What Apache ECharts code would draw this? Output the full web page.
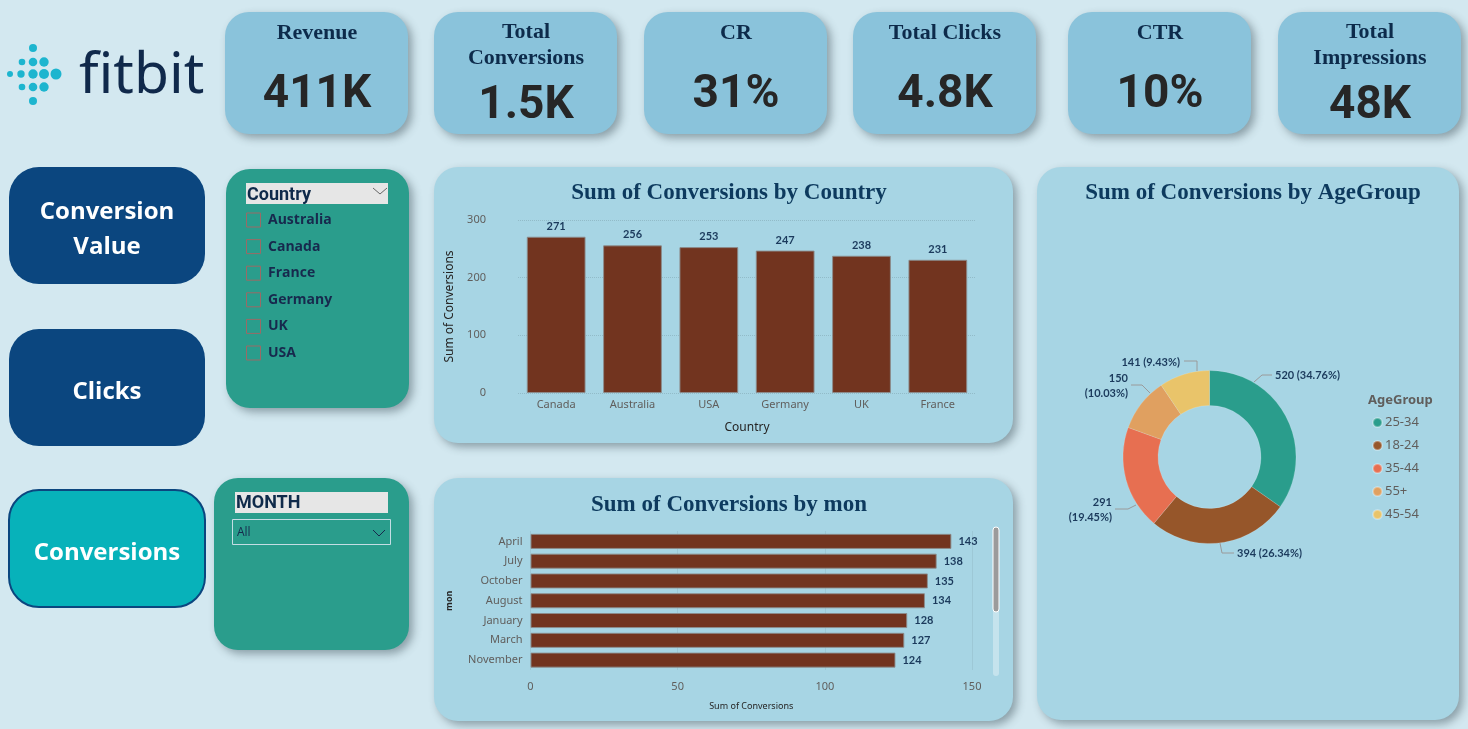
<!DOCTYPE html>
<html><head><meta charset="utf-8">
<script src="https://cdn.jsdelivr.net/npm/echarts@6/dist/echarts.min.js"></script>
<style>html,body{margin:0;padding:0;background:#d3e8f0;overflow:hidden}#c{width:1468px;height:729px}</style>
</head><body><div id="c"></div>
<script>
// ---------- DATA ----------
const countries = ['Canada', 'Australia', 'USA', 'Germany', 'UK', 'France'];
const countryConversions = [271, 256, 253, 247, 238, 231];
const months = ['April', 'July', 'October', 'August', 'January', 'March', 'November'];
const monthConversions = [143, 138, 135, 134, 128, 127, 124];
const ageGroups = ['25-34', '18-24', '35-44', '55+', '45-54'];
const ageConversions = [520, 394, 291, 150, 141];
const kpiTitles = ['Revenue', 'Total\nConversions', 'CR', 'Total Clicks', 'CTR', 'Total\nImpressions'];
const kpiValues = ['411K', '1.5K', '31%', '4.8K', '10%', '48K'];
const countrySlicerItems = ['Australia', 'Canada', 'France', 'Germany', 'UK', 'USA'];
const navButtons = ['Conversion\nValue', 'Clicks', 'Conversions'];

// ---------- LAYOUT / STYLE ----------
const kpiX = [225, 434, 644, 853, 1068, 1278];
const navY = [167, 329, 490];
const logoDots = [[33,48,4],[22,62,3.3],[33,62,4.3],[44,62,4.7],[10,74,3],[21,74,3.7],[33,74,4.7],[44,74,5],[56,74,5.5],[22,87,3.3],[33,87,4.3],[44,87,4.7],[33,101,4]];
// donut label placement (Power BI style leader lines)
const pieLabelLayout = [
  {x: 1275, y: 375, align: 'left', pts: [[1254, 382], [1262, 375], [1272, 375]]},
  {x: 1237, y: 553, align: 'left', pts: [[1220, 543], [1222, 553], [1234, 553]]},
  {x: 1112, y: 510, align: 'right', pts: [[1136, 505], [1128, 509], [1115, 509]]},
  {x: 1128, y: 386, align: 'right', pts: [[1150, 393], [1142, 385], [1131, 385]]},
  {x: 1180, y: 362, align: 'right', pts: [[1197, 371], [1197, 361], [1184, 361]]}
];
const BAR = '#72341f', NAVY = '#0d3a5e', LBL = '#1b3a5c';
const shadow = {shadowBlur: 8, shadowOffsetX: 4, shadowOffsetY: 4, shadowColor: 'rgba(50,70,80,0.45)'};

const g = [];
function rect(x, y, w, h, r, fill, extra) {
  g.push({type: 'rect', silent: true, z: -10, shape: {x, y, width: w, height: h, r}, style: Object.assign({fill}, extra || {})});
}
function text(x, y, t, font, fill, align, extra) {
  g.push({type: 'text', silent: true, z: 50, x, y, style: Object.assign({text: t, font, fill, textAlign: align || 'left', textVerticalAlign: 'middle'}, extra || {})});
}

// logo
logoDots.forEach(d => g.push({type: 'circle', silent: true, z: 5, shape: {cx: d[0], cy: d[1], r: d[2]}, style: {fill: '#1db5cf'}}));
text(79, 77, 'fitbit', '400 57px "Noto Sans", sans-serif', '#10294b', 'left');

// KPI cards
kpiTitles.forEach((t, i) => {
  const x = kpiX[i];
  rect(x, 12, 183, 122, 24, '#8ac3db', shadow);
  const two = t.indexOf('\n') >= 0;
  text(x + 92, two ? 45 : 33, t, 'bold 22px "Liberation Serif", "Times New Roman", serif', '#0d2b4b', 'center', {lineHeight: two ? 26 : 24});
  text(x + 92, two ? 106 : 95, kpiValues[i], 'bold 46px Roboto, sans-serif', '#262626', 'center');
});

// nav buttons
navButtons.forEach((t, i) => {
  const active = i === 2;
  rect(9, navY[i], 196, 117, 30, active ? '#07b2ba' : '#0b467f', active ? {stroke: '#0b467f', lineWidth: 2} : {});
  text(107, navY[i] + 63, t, 'bold 24px "Open Sans", sans-serif', '#ffffff', 'center', {lineHeight: 35});
});

// Country slicer
rect(226, 169, 183, 239, 24, '#2a9d8c', shadow);
rect(246, 183, 142, 21, 0, '#e6e6e6');
text(247, 195, 'Country', 'bold 18px Roboto, sans-serif', '#0f2a4a', 'left');
g.push({type: 'polyline', silent: true, z: 50, shape: {points: [[373, 188], [380, 194], [387, 188]]}, style: {stroke: '#666', lineWidth: 1, fill: null}});
countrySlicerItems.forEach((c, i) => {
  const cy = 220 + i * 26.6;
  g.push({type: 'rect', silent: true, z: 40, shape: {x: 246.5, y: cy - 7, width: 14, height: 14}, style: {fill: 'none', stroke: '#9a6a66', lineWidth: 1}});
  text(268, cy, c, 'bold 14px "Open Sans", sans-serif', '#17294d', 'left');
});

// Month slicer
rect(214, 478, 195, 172, 24, '#2a9d8c', shadow);
rect(235, 492, 153, 21, 0, '#e6e6e6');
text(236, 503, 'MONTH', 'bold 18px Roboto, sans-serif', '#0f2a4a', 'left');
g.push({type: 'rect', silent: true, z: 40, shape: {x: 232.5, y: 519.5, width: 158, height: 25}, style: {fill: 'none', stroke: '#c4dde4', lineWidth: 1}});
text(237, 533, 'All', '12px "Open Sans", sans-serif', '#17294d', 'left');
g.push({type: 'polyline', silent: true, z: 50, shape: {points: [[373, 530], [379, 536], [385, 530]]}, style: {stroke: '#17294d', lineWidth: 1, fill: null}});

// chart cards
rect(434, 167, 579, 276, 24, '#a7d5e4', shadow);
rect(434, 478, 579, 243, 24, '#a7d5e4', shadow);
rect(1037, 167, 422, 553, 24, '#a7d5e4', shadow);

// scrollbar for month chart
g.push({type: 'rect', silent: true, z: 40, shape: {x: 993, y: 527, width: 6, height: 149, r: 3}, style: {fill: 'rgba(255,255,255,0.35)'}});
g.push({type: 'rect', silent: true, z: 41, shape: {x: 993, y: 527, width: 6, height: 85, r: 3}, style: {fill: '#9b9b9b', stroke: '#ffffff', lineWidth: 1}});

// legend title
text(1368, 400, 'AgeGroup', 'bold 13px "Noto Sans", sans-serif', '#605e5c', 'left');

const axisFont = {fontFamily: '"Noto Sans", sans-serif', fontSize: 11, color: '#605e5c'};
const valFont = {fontFamily: 'Lato, sans-serif', fontWeight: 'bold', fontSize: 11, color: LBL};
const titleFont = {fontFamily: '"Liberation Serif", "Times New Roman", serif', fontWeight: 'bold', fontSize: 23, color: NAVY};
const ageTotal = ageConversions.reduce((a, b) => a + b, 0);

const option = {
  backgroundColor: '#d3e8f0',
  animation: false,
  title: [
    {text: 'Sum of Conversions by Country', left: 724, top: 177, textAlign: 'center', textStyle: titleFont},
    {text: 'Sum of Conversions by mon', left: 724, top: 489, textAlign: 'center', textStyle: titleFont},
    {text: 'Sum of Conversions by AgeGroup', left: 1248, top: 177, textAlign: 'center', textStyle: titleFont}
  ],
  grid: [
    {left: 518, top: 220, width: 458, height: 173},
    {left: 530.5, top: 531.5, width: 441.5, height: 138.5}
  ],
  xAxis: [
    {type: 'category', gridIndex: 0, data: countries, axisLine: {show: false}, axisTick: {show: false},
     axisLabel: Object.assign({margin: 6}, axisFont),
     name: 'Country', nameLocation: 'middle', nameGap: 29, nameTextStyle: {fontFamily: '"Noto Sans", sans-serif', fontSize: 12, color: '#252423'}},
    {type: 'value', gridIndex: 1, min: 0, max: 150, interval: 50, axisLine: {show: false}, axisTick: {show: false},
     axisLabel: Object.assign({margin: 11}, axisFont),
     splitLine: {show: true, lineStyle: {type: 'dotted', color: 'rgba(0,0,0,0.12)'}},
     name: 'Sum of Conversions', nameLocation: 'middle', nameGap: 32, nameTextStyle: {fontFamily: '"Noto Sans", sans-serif', fontSize: 9, color: '#252423'}}
  ],
  yAxis: [
    {type: 'value', gridIndex: 0, min: 0, max: 300, interval: 100, axisLine: {show: false}, axisTick: {show: false},
     axisLabel: Object.assign({margin: 32}, axisFont),
     splitLine: {show: true, lineStyle: {type: 'dotted', color: 'rgba(0,0,0,0.12)'}},
     name: 'Sum of Conversions', nameLocation: 'middle', nameGap: 62, nameRotate: 90, nameTextStyle: {fontFamily: '"Noto Sans", sans-serif', fontSize: 12, color: '#252423'}},
    {type: 'category', gridIndex: 1, data: months, inverse: true, axisLine: {show: false}, axisTick: {show: false},
     axisLabel: Object.assign({margin: 8}, axisFont),
     name: 'mon', nameLocation: 'middle', nameGap: 77, nameRotate: 90, nameTextStyle: {fontFamily: '"Noto Sans", sans-serif', fontSize: 9, fontWeight: 'bold', color: '#252423'}}
  ],
  legend: {
    orient: 'vertical', left: 1367, top: 411, itemWidth: 9, itemHeight: 9, itemGap: 10, icon: 'circle',
    data: ageGroups, textStyle: {fontFamily: '"Noto Sans", sans-serif', fontSize: 13, color: '#605e5c', padding: [0, 0, 0, -2]}
  },
  series: [
    {type: 'bar', xAxisIndex: 0, yAxisIndex: 0, data: countryConversions, barCategoryGap: '23%',
     itemStyle: {color: BAR, borderColor: 'rgba(140,140,140,0.9)', borderWidth: 1},
     label: Object.assign({show: true, position: 'top', distance: 5}, valFont)},
    {type: 'bar', xAxisIndex: 1, yAxisIndex: 1, data: monthConversions, barCategoryGap: '24%',
     itemStyle: {color: BAR, borderColor: 'rgba(140,140,140,0.9)', borderWidth: 1},
     label: Object.assign({show: true, position: 'right', distance: 7}, valFont)},
    {type: 'pie', center: [1209.5, 457], radius: [51.5, 86.5], startAngle: 90, clockwise: true,
     color: ['#2a9d8c', '#96562a', '#e76f51', '#e0a060', '#e9c46a'],
     itemStyle: {borderColor: 'rgba(255,255,255,0.3)', borderWidth: 0.5},
     label: Object.assign({show: true, lineHeight: 15, formatter: p => {
       const pct = (p.value / ageTotal * 100).toFixed(2) + '%';
       return (p.name === '35-44' || p.name === '55+') ? p.value + '\n(' + pct + ')' : p.value + ' (' + pct + ')';
     }}, valFont),
     labelLine: {show: true, length: 10, length2: 14, lineStyle: {color: '#9a9a9a', width: 1}},
     labelLayout: p => {
       const L = pieLabelLayout[p.dataIndex];
       return {x: L.x, y: L.y, align: L.align, verticalAlign: 'middle', labelLinePoints: L.pts};
     },
     data: ageGroups.map((n, i) => ({name: n, value: ageConversions[i]}))}
  ],
  graphic: {elements: g}
};
const chart = echarts.init(document.getElementById('c'), null, {renderer: 'canvas'});
chart.setOption(option);
</script></body></html>
